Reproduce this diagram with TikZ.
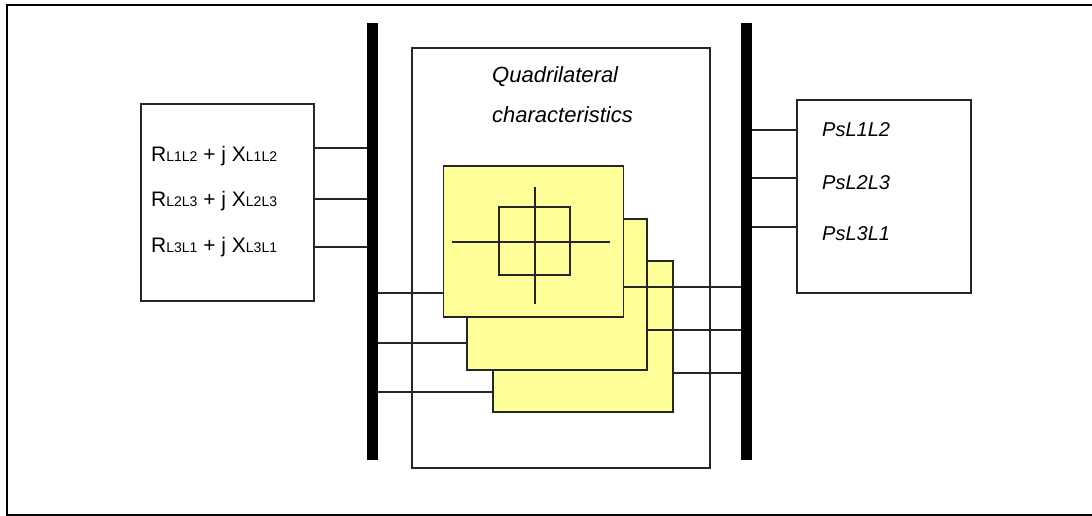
\documentclass[tikz,border=0pt]{standalone}
\usepackage{fontspec}
\setmainfont{Liberation Sans}
\newcommand{\subsc}[1]{{\fontsize{14}{14}\selectfont #1}}
\begin{document}
\begin{tikzpicture}[x=1pt,y=-1pt,
  box/.style={draw=black!85,line width=1.6pt,fill=white,inner sep=0pt,outer sep=0pt},
  ybox/.style={box,fill=yellowfill,minimum width=180pt,minimum height=151pt},
  bus/.style={fill=black,draw=none,inner sep=0pt,outer sep=0pt,minimum width=11pt,minimum height=437pt},
  wire/.style={draw=black!85,line width=1.1pt},
  lbl/.style={anchor=base west,inner sep=0pt,font=\fontsize{21}{21}\selectfont},
  ilbl/.style={anchor=base west,inner sep=0pt,font=\fontsize{20}{20}\selectfont\itshape},
  qlbl/.style={anchor=base west,inner sep=0pt,font=\fontsize{22}{22}\selectfont\itshape}]
\definecolor{yellowfill}{RGB}{255,255,153}
\useasboundingbox (0,0) rectangle (1092,516);
% outer frame
\draw[line width=2pt,line join=miter] (1092,5) -- (7,5) -- (7,515) -- (1092,515);
% boxes
\node[box,minimum width=173pt,minimum height=197pt] (lbox) at (227.5,202.5) {};
\node[box,minimum width=298pt,minimum height=420pt] (cbox) at (561,258) {};
\node[box,minimum width=174pt,minimum height=193pt] (rbox) at (884,196.5) {};
% buses
\node[bus] (lbus) at (372,241.5) {};
\node[bus] (rbus) at (746.5,241.5) {};
% texts
\node[lbl] (r1) at (151,161) {R\subsc{L1L2} + j X\subsc{L1L2}};
\node[lbl] (r2) at (151,206) {R\subsc{L2L3} + j X\subsc{L2L3}};
\node[lbl] (r3) at (151,252) {R\subsc{L3L1} + j X\subsc{L3L1}};
\node[qlbl] (q1) at (492,83) {Quadrilateral};
\node[qlbl] (q2) at (492,123) {characteristics};
\node[ilbl] (p1) at (822,137) {PsL1L2};
\node[ilbl] (p2) at (822,189) {PsL2L3};
\node[ilbl] (p3) at (822,240) {PsL3L1};
% wiring coordinates
\coordinate (a1) at (0,148);
\coordinate (a2) at (0,199);
\coordinate (a3) at (0,247);
\coordinate (b1) at (0,293);
\coordinate (b2) at (0,343);
\coordinate (b3) at (0,392);
\coordinate (c1) at (0,287);
\coordinate (c2) at (0,330);
\coordinate (c3) at (0,373);
\coordinate (d1) at (0,130);
\coordinate (d2) at (0,178);
\coordinate (d3) at (0,227);
% left wires
\draw[wire] (lbox.east |- a1) -- (lbus.west |- a1);
\draw[wire] (lbox.east |- a2) -- (lbus.west |- a2);
\draw[wire] (lbox.east |- a3) -- (lbus.west |- a3);
% yellow boxes
\node[ybox] (y3) at (583,336.5) {};
\node[ybox] (y2) at (557,294.5) {};
\node[ybox] (y1) at (533.5,241.5) {};
\draw[wire] (lbus.east |- b1) -- (y1.west |- b1);
\draw[wire] (lbus.east |- b2) -- (y2.west |- b2);
\draw[wire] (lbus.east |- b3) -- (y3.west |- b3);
% characteristic symbol
\node[draw=black!85,line width=1.6pt,inner sep=0pt,minimum width=71pt,minimum height=68pt] (sq) at (534.5,241) {};
\coordinate (vt) at (535,187);
\coordinate (vb) at (535,304);
\coordinate (hl) at (452,242);
\coordinate (hr) at (610,242);
\draw[wire] (vt) -- (vb);
\draw[wire] (hl) -- (hr);
% right wires
\draw[wire] (y1.east |- c1) -- (rbus.west |- c1);
\draw[wire] (y2.east |- c2) -- (rbus.west |- c2);
\draw[wire] (y3.east |- c3) -- (rbus.west |- c3);
\draw[wire] (rbus.east |- d1) -- (rbox.west |- d1);
\draw[wire] (rbus.east |- d2) -- (rbox.west |- d2);
\draw[wire] (rbus.east |- d3) -- (rbox.west |- d3);
\end{tikzpicture}
\end{document}
